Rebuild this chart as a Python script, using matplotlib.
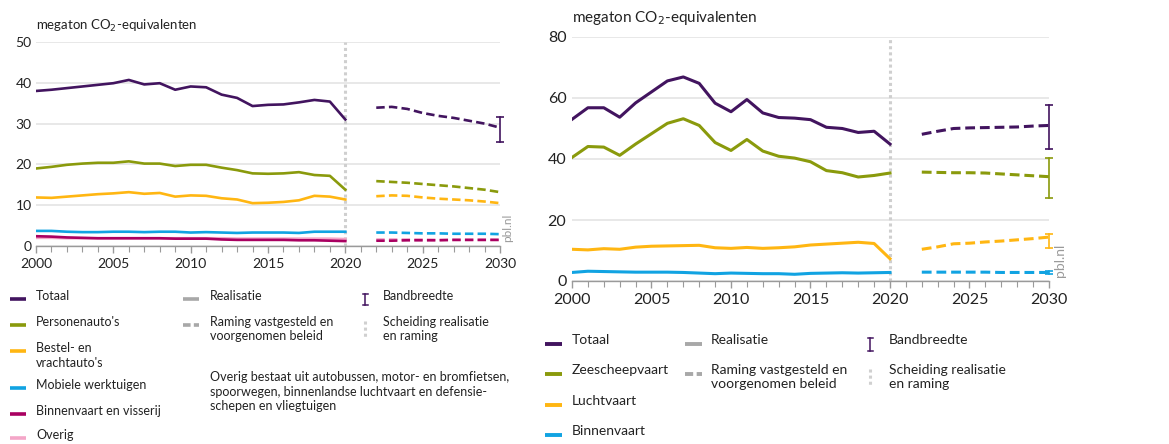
import matplotlib
matplotlib.use("Agg")
import matplotlib.pyplot as plt
from matplotlib.lines import Line2D
import numpy as np

plt.rcParams['font.family'] = ['Lato', 'DejaVu Sans']

# ---------------- data ----------------
years_real = list(range(2000, 2021))
years_proj = list(range(2022, 2031))

# Left panel: wegverkeer e.d.
left_totaal = [38.0, 38.3, 38.7, 39.1, 39.5, 39.9, 40.7, 39.6, 39.9, 38.3, 39.1, 38.9, 37.1, 36.3, 34.3, 34.6, 34.7, 35.2, 35.8, 35.4, 31.0]
left_totaal_proj = [33.9, 34.1, 33.6, 32.6, 31.9, 31.4, 30.7, 30.0, 29.0]
left_person = [19.0, 19.4, 19.9, 20.2, 20.4, 20.4, 20.75, 20.2, 20.2, 19.6, 19.9, 19.9, 19.2, 18.6, 17.8, 17.7, 17.8, 18.1, 17.4, 17.2, 13.8]
left_person_proj = [15.9, 15.7, 15.5, 15.2, 14.9, 14.6, 14.2, 13.8, 13.2]
left_bestel = [11.9, 11.8, 12.1, 12.4, 12.7, 12.9, 13.2, 12.8, 13.0, 12.1, 12.4, 12.3, 11.7, 11.4, 10.5, 10.6, 10.8, 11.2, 12.3, 12.1, 11.4]
left_bestel_proj = [12.2, 12.4, 12.3, 11.9, 11.6, 11.4, 11.2, 10.9, 10.5]
left_mobiel = [3.7, 3.7, 3.5, 3.4, 3.4, 3.5, 3.5, 3.4, 3.5, 3.5, 3.3, 3.4, 3.3, 3.2, 3.3, 3.3, 3.3, 3.2, 3.5, 3.5, 3.5]
left_mobiel_proj = [3.3, 3.3, 3.2, 3.1, 3.1, 3.0, 3.0, 3.0, 2.9]
left_binnen = [2.4, 2.3, 2.1, 2.0, 1.9, 1.9, 1.9, 1.9, 1.9, 1.8, 1.8, 1.8, 1.6, 1.5, 1.5, 1.5, 1.5, 1.4, 1.4, 1.3, 1.2]
left_binnen_proj = [1.3, 1.3, 1.4, 1.4, 1.4, 1.5, 1.5, 1.5, 1.5]
left_overig = [2.0, 2.0, 1.9, 1.9, 1.9, 1.9, 1.9, 1.9, 1.9, 1.9, 1.9, 1.9, 1.9, 1.8, 1.8, 1.8, 1.8, 1.8, 1.8, 1.8, 1.7]
left_overig_proj = [1.6, 1.6, 1.6, 1.6, 1.5, 1.5, 1.5, 1.5, 1.5]
left_band_totaal = (25.4, 31.5)

# Right panel: scheepvaart en luchtvaart
right_totaal = [53.0, 56.8, 56.8, 53.7, 58.4, 62.0, 65.6, 66.9, 64.8, 58.3, 55.5, 59.5, 55.1, 53.6, 53.4, 52.9, 50.4, 50.0, 48.7, 49.1, 44.9]
right_totaal_proj = [48.1, 49.1, 50.0, 50.2, 50.3, 50.4, 50.5, 50.8, 51.0]
right_zee = [40.5, 44.1, 43.9, 41.2, 44.9, 48.3, 51.7, 53.2, 51.0, 45.4, 42.8, 46.4, 42.6, 40.9, 40.3, 39.1, 36.2, 35.5, 34.1, 34.6, 35.4]
right_zee_proj = [35.7, 35.6, 35.5, 35.5, 35.4, 35.1, 34.8, 34.5, 34.2]
right_lucht = [10.4, 10.2, 10.6, 10.4, 11.1, 11.4, 11.5, 11.6, 11.7, 10.9, 10.7, 11.0, 10.7, 10.9, 11.2, 11.8, 12.1, 12.4, 12.7, 12.3, 7.3]
right_lucht_proj = [10.4, 11.2, 12.2, 12.4, 12.8, 13.1, 13.5, 13.9, 14.4]
right_binnen = [2.8, 3.2, 3.1, 3.0, 2.9, 2.9, 2.9, 2.8, 2.6, 2.4, 2.6, 2.5, 2.4, 2.4, 2.2, 2.5, 2.6, 2.7, 2.6, 2.7, 2.8]
right_binnen_proj = [2.9, 2.9, 2.9, 2.9, 2.9, 2.8, 2.8, 2.8, 2.8]
right_band_totaal = (43.3, 57.8)
right_band_zee = (27.2, 40.2)
right_band_lucht = (10.9, 15.3)
right_band_binnen = (2.3, 3.3)

left_names = ["Totaal", "Personenauto's", "Bestel- en\nvrachtauto's", "Mobiele werktuigen", "Binnenvaart en visserij", "Overig"]
right_names = ["Totaal", "Zeescheepvaart", "Luchtvaart", "Binnenvaart"]
left_yticks = [0, 10, 20, 30, 40, 50]
right_yticks = [0, 20, 40, 60, 80]
xticks = [2000, 2005, 2010, 2015, 2020, 2025, 2030]

# ---------------- styles ----------------
C_PURPLE = "#42145f"
C_OLIVE = "#8a9a0c"
C_ORANGE = "#ffb612"
C_BLUE = "#11a3e2"
C_MAGENTA = "#a90061"
C_PINK = "#f4a6c8"
C_GRAY = "#a8a8a8"
C_TEXT = "#222222"
LW = 1.9
DASH = (0, (3.2, 1.6))

fig = plt.figure(figsize=(11.69, 4.44), dpi=100)
W, H = 1169, 444

def fx(px):
    return px / W

def fy(py):
    return 1 - py / H

axL = fig.add_axes([fx(36), fy(246), fx(500) - fx(36), fy(42) - fy(246)])
axR = fig.add_axes([fx(572), fy(281), fx(1049) - fx(572), fy(37) - fy(281)])

def style_axis(ax, yticks, fs_tick, ypad):
    ax.set_xlim(2000, 2030)
    ax.set_ylim(0, yticks[-1])
    ax.set_yticks(yticks)
    ax.set_xticks(xticks)
    ax.set_xticks(range(2000, 2031), minor=True)
    for s in ["top", "right", "left"]:
        ax.spines[s].set_visible(False)
    ax.spines["bottom"].set_color("#9a9a9a")
    ax.spines["bottom"].set_linewidth(1.0)
    ax.grid(axis="y", color="#e4e4e4", linewidth=1.2)
    ax.set_axisbelow(True)
    ax.tick_params(axis="y", length=0, labelsize=fs_tick, colors=C_TEXT, pad=ypad)
    ax.tick_params(axis="x", which="both", direction="out", color="#9a9a9a",
                   labelsize=fs_tick, colors=C_TEXT)
    ax.tick_params(axis="x", which="major", length=5, width=1.0)
    ax.tick_params(axis="x", which="minor", length=4, width=0.8)
    ax.tick_params(axis="x", labelcolor=C_TEXT)
    ax.tick_params(axis="y", labelcolor=C_TEXT)
    ax.axvline(2020, color="#cfcfcf", linewidth=2.2, linestyle=(0, (1, 1)), zorder=1)

def band(ax, lo_hi, color):
    lo, hi = lo_hi
    ax.plot([2030, 2030], [lo, hi], color=color, linewidth=1.2, zorder=4, clip_on=False)
    for v in (lo, hi):
        ax.plot([2030], [v], marker="_", markersize=6, markeredgewidth=1.2,
                color=color, zorder=4, clip_on=False)

# Left panel
style_axis(axL, left_yticks, 10, 3)
left_series = [
    (left_overig, left_overig_proj, C_PINK),
    (left_binnen, left_binnen_proj, C_MAGENTA),
    (left_mobiel, left_mobiel_proj, C_BLUE),
    (left_bestel, left_bestel_proj, C_ORANGE),
    (left_person, left_person_proj, C_OLIVE),
    (left_totaal, left_totaal_proj, C_PURPLE),
]
for real, proj, c in left_series:
    axL.plot(years_real, real, color=c, linewidth=LW, solid_joinstyle="round", zorder=3)
    axL.plot(years_proj, proj, color=c, linewidth=LW, linestyle=DASH, zorder=3)
band(axL, left_band_totaal, C_PURPLE)

# Right panel
style_axis(axR, right_yticks, 11.5, 4)
right_series = [
    (right_binnen, right_binnen_proj, C_BLUE, right_band_binnen),
    (right_lucht, right_lucht_proj, C_ORANGE, right_band_lucht),
    (right_zee, right_zee_proj, C_OLIVE, right_band_zee),
    (right_totaal, right_totaal_proj, C_PURPLE, right_band_totaal),
]
for real, proj, c, b in right_series:
    axR.plot(years_real, real, color=c, linewidth=LW + 0.3, solid_joinstyle="round", zorder=3)
    axR.plot(years_proj, proj, color=c, linewidth=LW + 0.3, linestyle=DASH, zorder=3)
    band(axR, b, c)

# y-axis unit labels
fig.text(fx(36), fy(26), "megaton CO$_2$-equivalenten", fontsize=9.5, color=C_TEXT,
         ha="left", va="center")
fig.text(fx(572), fy(18), "megaton CO$_2$-equivalenten", fontsize=11, color=C_TEXT,
         ha="left", va="center")

# pbl.nl watermarks
fig.text(fx(508), fy(228), "pbl.nl", rotation=90, fontsize=8.5, color="#9a9a9a",
         ha="center", va="center")
fig.text(fx(1060), fy(260), "pbl.nl", rotation=90, fontsize=10, color="#9a9a9a",
         ha="center", va="center")

# ---------------- legends ----------------
def leg_line(x0, x1, y, color, ls="-", lw=2.6):
    fig.add_artist(Line2D([fx(x0), fx(x1)], [fy(y), fy(y)], color=color, linewidth=lw,
                          linestyle=ls, solid_capstyle="butt", dash_capstyle="butt",
                          transform=fig.transFigure))

def leg_ibar(x, y, color, h):
    fig.add_artist(Line2D([fx(x), fx(x)], [fy(y - h), fy(y + h)], color=color, linewidth=1.1,
                          transform=fig.transFigure))
    for yy in (y - h, y + h):
        fig.add_artist(Line2D([fx(x - 2.5), fx(x + 2.5)], [fy(yy), fy(yy)], color=color,
                              linewidth=1.1, transform=fig.transFigure))

def leg_sep(x, y, h):
    fig.add_artist(Line2D([fx(x), fx(x)], [fy(y - h), fy(y + h)], color="#d0d0d0", linewidth=2.2,
                          linestyle=(0, (1, 1)), transform=fig.transFigure))

def leg_text(x, y, s, fs):
    fig.text(fx(x), fy(y), s, fontsize=fs, color=C_TEXT, ha="left", va="top",
             linespacing=1.25)

# Left legend
fsL = 9.0
left_colors = [C_PURPLE, C_OLIVE, C_ORANGE, C_BLUE, C_MAGENTA, C_PINK]
left_rows = [299, 325, 351, 388, 414, 438]
for name, c, yy in zip(left_names, left_colors, left_rows):
    leg_line(10, 26, yy, c)
    leg_text(36, yy - 9, name, fsL)
leg_line(183, 199, 299, C_GRAY)
leg_text(210, 290, "Realisatie", fsL)
leg_line(183, 199, 325, C_GRAY, ls=(0, (2.1, 0.9)))
leg_text(210, 316, "Raming vastgesteld en\nvoorgenomen beleid", fsL)
leg_ibar(365, 299, C_PURPLE, 5.5)
leg_text(383, 290, "Bandbreedte", fsL)
leg_sep(365, 329, 8)
leg_text(383, 316, "Scheiding realisatie\nen raming", fsL)
leg_text(210, 371, "Overig bestaat uit autobussen, motor- en bromfietsen,\n"
                   "spoorwegen, binnenlandse luchtvaart en defensie-\n"
                   "schepen en vliegtuigen", fsL)

# Right legend
fsR = 10.0
right_colors = [C_PURPLE, C_OLIVE, C_ORANGE, C_BLUE]
right_rows = [344, 374, 405, 435]
for name, c, yy in zip(right_names, right_colors, right_rows):
    leg_line(545, 562, yy, c, lw=2.8)
    leg_text(572, yy - 10, name, fsR)
leg_line(685, 702, 344, C_GRAY, lw=2.8)
leg_text(711, 334, "Realisatie", fsR)
leg_line(685, 702, 374, C_GRAY, ls=(0, (2.1, 0.9)), lw=2.8)
leg_text(711, 364, "Raming vastgesteld en\nvoorgenomen beleid", fsR)
leg_ibar(870, 344, C_PURPLE, 6.5)
leg_text(889, 334, "Bandbreedte", fsR)
leg_sep(870, 378, 9)
leg_text(889, 364, "Scheiding realisatie\nen raming", fsR)

fig.savefig("out.png", dpi=100)
